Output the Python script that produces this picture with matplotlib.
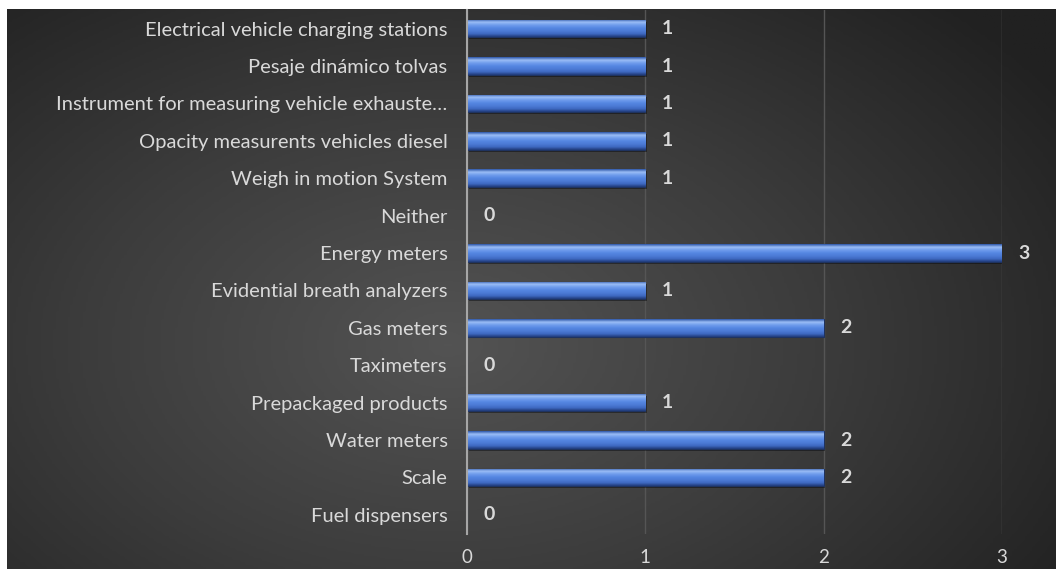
import numpy as np
import matplotlib
matplotlib.use("Agg")
import matplotlib.pyplot as plt
from matplotlib.colors import LinearSegmentedColormap

# data (bottom to top, as drawn)
categories = [
    "Fuel dispensers",
    "Scale",
    "Water meters",
    "Prepackaged products",
    "Taximeters",
    "Gas meters",
    "Evidential breath analyzers",
    "Energy meters",
    "Neither",
    "Weigh in motion System",
    "Opacity measurents vehicles diesel",
    "Instrument for measuring vehicle exhauste…",
    "Pesaje dinámico tolvas",
    "Electrical vehicle charging stations",
]
values = [0, 2, 2, 1, 0, 2, 1, 3, 0, 1, 1, 1, 1, 1]
xticks = [0, 1, 2, 3]

plt.rcParams["font.family"] = ["Lato", "DejaVu Sans"]
txt_col = "#D9D9D9"

W, H = 1056, 569
fig = plt.figure(figsize=(W / 100, H / 100), dpi=100)
fig.patch.set_facecolor("white")

# dark radial gradient background
bg = fig.add_axes([7 / W, 0, 1 - 7 / W, 1 - 9 / H])
bg.set_axis_off()
gx, gy = np.meshgrid(np.linspace(0, 1, 400), np.linspace(0, 1, 220))
r = np.sqrt(((gx - 0.42) / 0.7) ** 2 + ((gy - 0.6) / 0.85) ** 2)
r = np.clip(r, 0, 1)
bg_cmap = LinearSegmentedColormap.from_list("bg", ["#535353", "#3c3c3c", "#212121"])
bg.imshow(r, cmap=bg_cmap, aspect="auto", extent=(0, 1, 0, 1), origin="upper")
bg.set_xlim(0, 1)
bg.set_ylim(0, 1)

ax = fig.add_axes([467 / W, 1 - 533.5 / H, (1002 - 467) / W, (533.5 - 10) / H])
ax.patch.set_alpha(0)

y = np.arange(len(categories))
bh = 0.47

bar_cmap = LinearSegmentedColormap.from_list(
    "bar", ["#1f3a78", "#3e68c0", "#4c7bd6", "#5587e2", "#6f9cec", "#9abdf6", "#2f58a8"]
)
grad = np.linspace(0, 1, 64).reshape(-1, 1)

# shadow under bars
ax.barh(y - 0.05, values, height=bh, left=0.01, color="black", alpha=0.4, zorder=2)
bars = ax.barh(y, values, height=bh, color="#4f7fda", edgecolor="#1f3360",
               linewidth=0.8, zorder=3)
for b, v, yy in zip(bars, values, y):
    if v > 0:
        im = ax.imshow(grad, cmap=bar_cmap, aspect="auto",
                       extent=(0, v, yy - bh / 2, yy + bh / 2), origin="lower", zorder=3.5)
        im.set_clip_path(b)
    ax.annotate(str(v), (v, yy), xytext=(12, 0), textcoords="offset points",
                ha="left", va="center", color=txt_col, fontsize=14,
                fontweight="bold", annotation_clip=False)

ax.set_xlim(0, 3)
ax.set_ylim(-0.5, len(categories) - 0.5)
ax.set_yticks(y)
ax.set_yticklabels(categories)
ax.set_xticks(xticks)
ax.set_xticklabels([str(t) for t in xticks])
ax.tick_params(axis="both", length=0, colors=txt_col, labelsize=14.5)
ax.tick_params(axis="y", pad=14)
ax.tick_params(axis="x", pad=11, labelsize=13.5)

ax.grid(axis="x", color="#555555", linewidth=1.0, zorder=0)
ax.set_axisbelow(True)
for s in ["top", "right", "bottom"]:
    ax.spines[s].set_visible(False)
ax.spines["left"].set_color("#A6A6A6")
ax.spines["left"].set_linewidth(1.5)
ax.spines["left"].set_zorder(5)

fig.savefig("out.png", dpi=100, facecolor=fig.get_facecolor())
